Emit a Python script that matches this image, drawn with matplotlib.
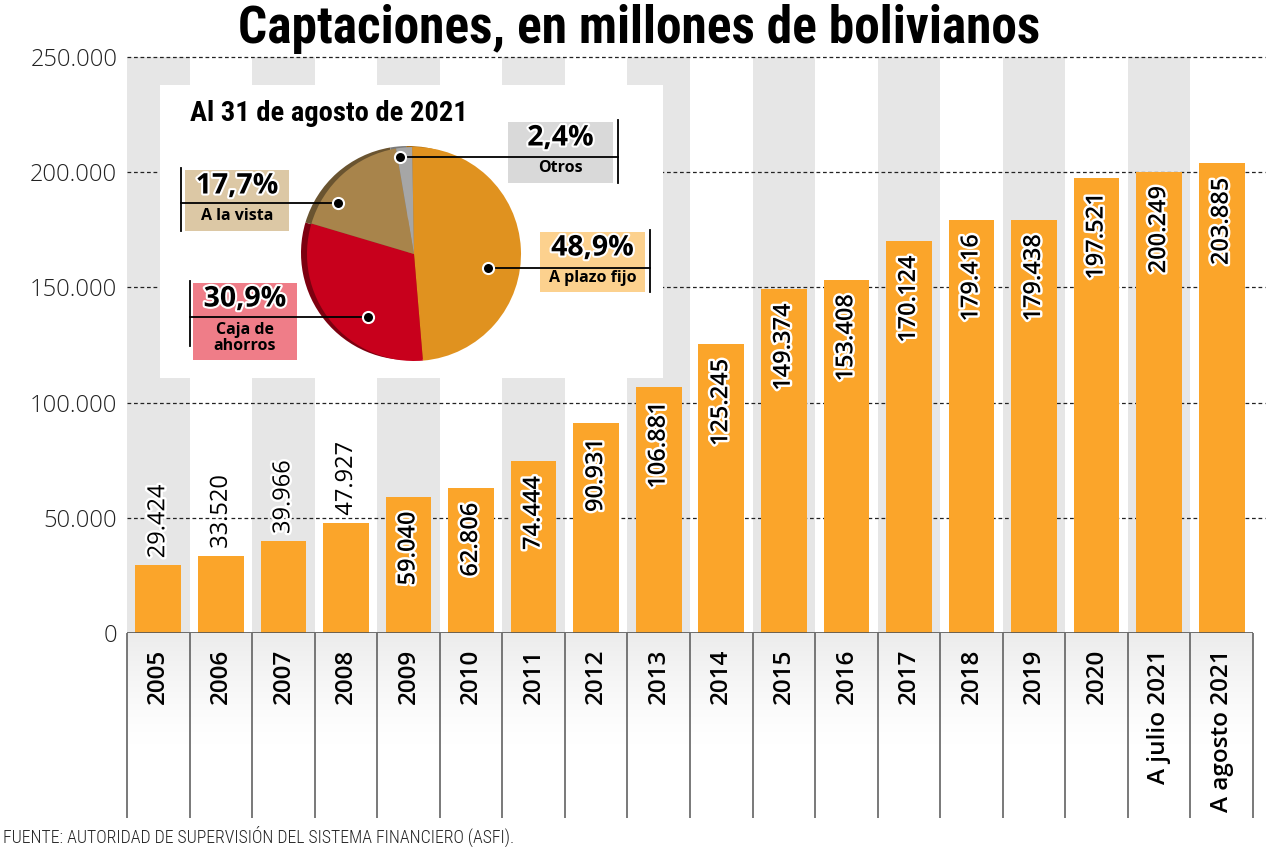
import matplotlib
matplotlib.use("Agg")
import matplotlib.pyplot as plt
import matplotlib.patheffects as pe
from matplotlib import font_manager as fm
from matplotlib.patches import Rectangle
import numpy as np

# --- data ---------------------------------------------------------------
categories = ["2005", "2006", "2007", "2008", "2009", "2010", "2011", "2012",
              "2013", "2014", "2015", "2016", "2017", "2018", "2019", "2020",
              "A julio 2021", "A agosto 2021"]
values = [29424, 33520, 39966, 47927, 59040, 62806, 74444, 90931, 106881,
          125245, 149374, 153408, 170124, 179416, 179438, 197521, 200249, 203885]
yticks = [0, 50000, 100000, 150000, 200000, 250000]

pie_names = ["A plazo fijo", "Caja de\nahorros", "A la vista", "Otros"]
pie_shares = [48.9, 30.9, 17.7, 2.4]

TITLE = "Captaciones, en millones de bolivianos"
INSET_TITLE = "Al 31 de agosto de 2021"
SOURCE = "FUENTE: AUTORIDAD DE SUPERVISIÓN DEL SISTEMA FINANCIERO (ASFI)."

W, H = 1280, 847
BAR = "#FBA52A"
BAND = "#E6E6E6"


def fmt(v):
    return f"{v:,}".replace(",", ".")


def pct(v):
    return f"{v:.1f}%".replace(".", ",")


def font(cands, size, weight="normal"):
    """first installed face out of (name, weight, stretch) candidates"""
    for name, w, stretch in cands:
        for f in fm.fontManager.ttflist:
            if f.name == name and f.weight == w and f.style == "normal" \
                    and (stretch is None or f.stretch == stretch):
                return fm.FontProperties(fname=f.fname, size=size)
    return fm.FontProperties(family="DejaVu Sans", weight=weight, size=size)


COND_BOLD = [("Roboto Condensed", 700, None), ("Roboto", 700, "condensed"),
             ("Liberation Sans Narrow", 700, None), ("Open Sans Condensed", 700, None),
             ("Roboto", 700, None)]
COND_LIGHT = [("Open Sans Condensed", 300, None), ("Roboto Condensed", 300, None),
              ("Roboto", 300, "condensed"), ("Liberation Sans Narrow", 400, None),
              ("Open Sans", 300, None)]
LIGHT = [("Open Sans", 300, "normal"), ("Open Sans Light", 300, None),
         ("Lato", 300, "normal"), ("Roboto", 300, "normal"), ("Open Sans", 400, "normal")]
SEMI = [("Open Sans", 600, "normal"), ("Open Sans", 700, "normal"), ("Lato", 700, None)]
REG = [("Open Sans", 400, "normal"), ("Lato", 400, None)]
BOLD = [("Open Sans", 700, "normal"), ("Lato", 700, None)]

fig = plt.figure(figsize=(W / 100, H / 100), dpi=100)


def fx(px):
    return px / W


def fy(py):
    return 1 - py / H


# --- main bar axes --------------------------------------------------------
x = np.arange(len(categories))
ax = fig.add_axes([fx(127), fy(633), (1253 - 127) / W, (633 - 57) / H])
ax.set_xlim(-0.5, len(categories) - 0.5)
ax.set_ylim(0, yticks[-1])
for i in x[::2]:
    ax.axvspan(i - 0.5, i + 0.5, color=BAND, lw=0, zorder=0)
for t in yticks[1:]:
    ax.plot([-0.5, len(categories) - 0.31], [t, t], color="#222222", lw=0.9,
            ls=(0, (3, 2.2)), clip_on=False, zorder=2)
ax.bar(x, values, width=0.73, color=BAR, zorder=3)
ax.axhline(0, color="#555555", lw=1.2, zorder=4)

halo = [pe.withStroke(linewidth=3.5, foreground="white")]
for i, v in zip(x, values):
    if v < 50000:
        ax.annotate(fmt(v), (i, v), xytext=(0, 5), textcoords="offset points",
                    rotation=90, ha="center", va="bottom", color="black",
                    fontproperties=font(REG, 17), path_effects=halo, zorder=5)
    else:
        ax.annotate(fmt(v), (i, v), xytext=(0, -10.5), textcoords="offset points",
                    rotation=90, ha="center", va="top", color="black",
                    fontproperties=font(SEMI, 17), path_effects=halo, zorder=5)

ax.set_yticks(yticks)
ax.set_yticklabels([fmt(t) for t in yticks], fontproperties=font(LIGHT, 17),
                   color="#222222")
ax.tick_params(axis="y", length=0, pad=7)
ax.set_xticks([])
for s in ax.spines.values():
    s.set_visible(False)

# --- category label strip -------------------------------------------------
lax = fig.add_axes([fx(127), fy(818), (1253 - 127) / W, (818 - 633) / H])
lax.set_xlim(-0.5, len(categories) - 0.5)
lax.set_ylim(0, 1)
# light grey at the top of the strip fading to white further down
shade = np.clip(1 - np.linspace(0, 1, 200) / 0.6, 0, 1) ** 1.3   # row 0 = top
rgba = np.ones((200, 1, 4))
rgba[:, 0, :3] = 1 - 0.075 * shade[:, None]
lax.imshow(rgba, extent=(-0.5, len(categories) - 0.5, 0, 1), aspect="auto",
           origin="upper", zorder=0)
lax.vlines(np.arange(len(categories) + 1) - 0.5, 0, 1, color="#555555", lw=1.1,
           clip_on=False, zorder=2)
for i, c in zip(x, categories):
    lax.text(i, 1 - 16 / 185, c, rotation=90, ha="center", va="top",
             fontproperties=font(SEMI, 17.5), color="black", zorder=3)
lax.set_xlim(-0.5, len(categories) - 0.5)
lax.set_ylim(0, 1)
lax.axis("off")

# --- inset with pie (overlay in pixel coordinates) ------------------------
ov = fig.add_axes([0, 0, 1, 1], zorder=5)
ov.patch.set_alpha(0)
ov.add_patch(Rectangle((160, H - 378), 663 - 160, 378 - 85, fc="white", ec="none"))

cx, cy, r = 414, 254, 107
pie_cols = ["#E0921F", "#C8001C", "#A8844B", "#A6A6A6"]
shade_cols = ["#A86A10", "#7D0010", "#6A5430", "#7A7A7A"]
ov.pie(pie_shares, colors=shade_cols, startangle=91, counterclock=False,
       center=(cx - 6, H - cy + 1), radius=r, frame=True,
       wedgeprops=dict(linewidth=0))
ov.pie(pie_shares, colors=pie_cols, startangle=91, counterclock=False,
       center=(cx, H - cy), radius=r, frame=True,
       wedgeprops=dict(linewidth=0))

# label boxes: (box x0, y0, x1, y1), vertical rule x, dot angle / radius, colour
boxes = [((540, 232, 645, 292), 650, -11, 0.70, "#FCD18E"),
         ((193, 283, 297, 360), 190, 234, 0.73, "#EF7D88"),
         ((185, 170, 289, 231), 181, 146, 0.86, "#DCC8A5"),
         ((508, 122, 613, 183), 618, 98, 0.92, "#D9D9D9")]
stroke = [pe.withStroke(linewidth=3, foreground="white")]
for (bx, rule_x, ang, rr, col), name, share in zip(boxes, pie_names, pie_shares):
    x0, y0, x1, y1 = bx
    ov.add_patch(Rectangle((x0, H - y1), x1 - x0, y1 - y0, fc=col, ec="none"))
    dx = cx + rr * r * np.cos(np.radians(ang))
    dy = cy - rr * r * np.sin(np.radians(ang))
    ov.plot([dx, rule_x], [H - dy, H - dy], color="black", lw=1.3)
    ov.plot([rule_x, rule_x], [H - y0 + 2, H - min(y1, y0 + 63)], color="black", lw=1.3)
    ov.plot(dx, H - dy, "o", ms=8, mfc="black", mec="white", mew=1.5)
    xm = (x0 + x1) / 2
    ov.text(xm, H - (y0 + 16), pct(share), ha="center", va="center",
            fontproperties=font(BOLD, 20.5), path_effects=stroke, color="black")
    if "\n" in name:
        ov.text(xm, H - (y0 + 55), name, ha="center", va="center", linespacing=0.95,
                fontproperties=font(BOLD, 11.5), color="black")
    else:
        ov.text(xm, H - (y0 + 46), name, ha="center", va="center",
                fontproperties=font(BOLD, 11.5), color="black")

ov.text(190, H - 113, INSET_TITLE, ha="left", va="center",
        fontproperties=font(COND_BOLD, 20.5), color="black")

ov.set_xlim(0, W)
ov.set_ylim(0, H)
ov.set_aspect("auto")
ov.axis("off")

# --- titles ---------------------------------------------------------------
fig.text(fx(639), fy(43), TITLE, ha="center", va="baseline",
         fontproperties=font(COND_BOLD, 37), color="black")
fig.text(fx(3), fy(843), SOURCE, ha="left", va="baseline",
         fontproperties=font(COND_LIGHT, 12.8), color="#222222")

fig.savefig("out.png", dpi=100)
